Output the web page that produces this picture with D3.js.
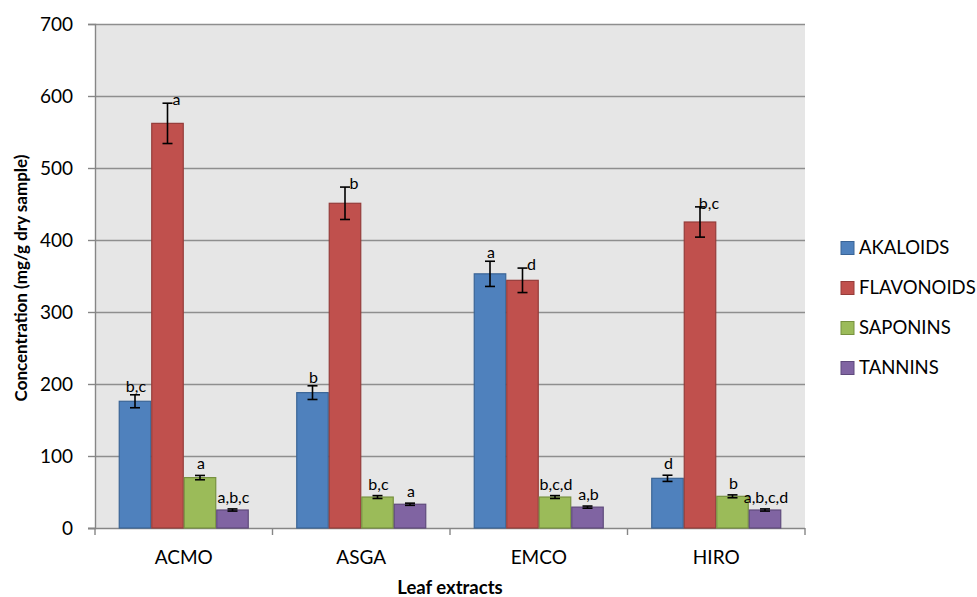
<!DOCTYPE html>
<html>
<head>
<meta charset="utf-8">
<script src="https://cdn.jsdelivr.net/npm/d3@7"></script>
<style>
  html, body { margin: 0; padding: 0; background: #ffffff; }
  svg { display: block; font-family: Lato, "Open Sans", "DejaVu Sans", sans-serif; }
</style>
</head>
<body>
<svg id="chart" width="977" height="597"></svg>
<script>
// Leaf extracts and the phytochemical groups measured in each
const categories = ["ACMO", "ASGA", "EMCO", "HIRO"];
const seriesNames = ["AKALOIDS", "FLAVONOIDS", "SAPONINS", "TANNINS"];

// Mean concentrations (mg/g dry sample)
const alkaloids  = [176, 188, 353, 69];
const flavonoids = [562, 451, 344, 425];
const saponins   = [70, 43, 43, 44];
const tannins    = [25, 33, 29, 25];

// Standard errors
const alkaloidsErr  = [9, 9.5, 17.5, 4.3];
const flavonoidsErr = [28, 22.5, 17, 21];
const saponinsErr   = [3, 2, 2, 2];
const tanninsErr    = [1.5, 1.5, 1.5, 1.5];

// Significance letters
const alkaloidsSig  = ["b,c", "b", "a", "d"];
const flavonoidsSig = ["a", "b", "d", "b,c"];
const saponinsSig   = ["a", "b,c", "b,c,d", "b"];
const tanninsSig    = ["a,b,c", "a", "a,b", "a,b,c,d"];

const yTicks = [0, 100, 200, 300, 400, 500, 600, 700];

const colors = ["#4F81BD", "#C0504D", "#9BBB59", "#8064A2"];
const strokes = ["#3A6496", "#953C3A", "#77913F", "#5F4A7C"];

const values = [alkaloids, flavonoids, saponins, tannins];
const errors = [alkaloidsErr, flavonoidsErr, saponinsErr, tanninsErr];
const sigs = [alkaloidsSig, flavonoidsSig, saponinsSig, tanninsSig];

const rows = [];
categories.forEach((c, i) => {
  seriesNames.forEach((s, j) => {
    rows.push({ cat: c, series: s, idx: j, value: values[j][i], err: errors[j][i], sig: sigs[j][i] });
  });
});

const svg = d3.select("#chart");
const plot = { left: 95, right: 805, top: 24, bottom: 528 };

const x0 = d3.scaleBand()
  .domain(categories)
  .range([plot.left, plot.right])
  .paddingInner(0.2676)
  .paddingOuter(0.1338);

const x1 = d3.scaleBand()
  .domain(seriesNames)
  .range([0, x0.bandwidth()])
  .padding(0);

const y = d3.scaleLinear().domain([0, 700]).range([plot.bottom, plot.top]);

// plot background
svg.append("rect")
  .attr("x", plot.left).attr("y", plot.top)
  .attr("width", plot.right - plot.left).attr("height", plot.bottom - plot.top)
  .attr("fill", "#e6e6e6");

// horizontal gridlines
svg.append("g").selectAll("line")
  .data(yTicks.filter(t => t > 0))
  .join("line")
  .attr("x1", plot.left).attr("x2", plot.right)
  .attr("y1", d => y(d) + 0.5).attr("y2", d => y(d) + 0.5)
  .attr("stroke", "#8e8e8e").attr("stroke-width", 1.4);

// y axis
const yAxis = svg.append("g")
  .attr("transform", `translate(${plot.left},0)`)
  .call(d3.axisLeft(y).tickValues(yTicks).tickSize(7).tickPadding(15).tickFormat(d3.format("d")));
yAxis.select(".domain").attr("stroke", "#868686").attr("stroke-width", 1.4);
yAxis.selectAll(".tick line").attr("stroke", "#868686").attr("stroke-width", 1.4);
yAxis.selectAll(".tick text")
  .attr("font-size", 19).attr("fill", "#000").attr("font-family", "Lato, sans-serif");

// x axis with ticks on group boundaries
const xAxisG = svg.append("g").attr("transform", `translate(0,${plot.bottom})`);
xAxisG.append("line")
  .attr("x1", plot.left - 7).attr("x2", plot.right)
  .attr("y1", 0.5).attr("y2", 0.5)
  .attr("stroke", "#868686").attr("stroke-width", 1.4);
const boundaries = categories.map(c => x0(c) - x0.step() * x0.paddingOuter()).concat([plot.right]);
xAxisG.selectAll("line.tk")
  .data(boundaries)
  .join("line").attr("class", "tk")
  .attr("x1", d => d).attr("x2", d => d)
  .attr("y1", 0).attr("y2", 7)
  .attr("stroke", "#868686").attr("stroke-width", 1.4);
xAxisG.selectAll("text")
  .data(categories)
  .join("text")
  .attr("x", d => x0(d) + x0.bandwidth() / 2)
  .attr("y", 36)
  .attr("text-anchor", "middle")
  .attr("font-size", 19)
  .text(d => d);

// bars
const groups = svg.append("g").selectAll("g")
  .data(categories)
  .join("g")
  .attr("transform", d => `translate(${x0(d)},0)`);

groups.selectAll("rect")
  .data(c => rows.filter(r => r.cat === c))
  .join("rect")
  .attr("x", d => x1(d.series) + 0.5)
  .attr("y", d => y(d.value))
  .attr("width", x1.bandwidth() - 1)
  .attr("height", d => y(0) - y(d.value))
  .attr("fill", d => colors[d.idx])
  .attr("stroke", d => strokes[d.idx])
  .attr("stroke-width", 1.2);

// error bars
const eb = groups.selectAll("g.err")
  .data(c => rows.filter(r => r.cat === c))
  .join("g").attr("class", "err")
  .attr("stroke", "#000").attr("stroke-width", 1.6);
const cx = d => x1(d.series) + x1.bandwidth() / 2;
eb.append("line")
  .attr("x1", cx).attr("x2", cx)
  .attr("y1", d => y(d.value + d.err)).attr("y2", d => y(d.value - d.err));
eb.append("line")
  .attr("x1", d => cx(d) - 5).attr("x2", d => cx(d) + 5)
  .attr("y1", d => y(d.value + d.err)).attr("y2", d => y(d.value + d.err));
eb.append("line")
  .attr("x1", d => cx(d) - 5).attr("x2", d => cx(d) + 5)
  .attr("y1", d => y(d.value - d.err)).attr("y2", d => y(d.value - d.err));

// significance letters: flavonoid letters sit beside the cap, the rest just above it
groups.selectAll("text.sig")
  .data(c => rows.filter(r => r.cat === c))
  .join("text").attr("class", "sig")
  .attr("x", d => cx(d) + (d.idx === 1 ? 9 : 1))
  .attr("y", d => y(d.value + d.err) + (d.idx === 1 ? 2 : (d.value > 150 ? -3 : -6)))
  .attr("text-anchor", "middle")
  .attr("font-size", 16)
  .attr("fill", "#000")
  .text(d => d.sig);

// legend
const legend = svg.append("g").attr("transform", "translate(841,248)");
const li = legend.selectAll("g")
  .data(seriesNames)
  .join("g")
  .attr("transform", (d, i) => `translate(0,${i * 40})`);
li.append("rect")
  .attr("x", 0).attr("y", -6.5).attr("width", 13).attr("height", 13)
  .attr("fill", (d, i) => colors[i])
  .attr("stroke", (d, i) => strokes[i]).attr("stroke-width", 1);
li.append("text")
  .attr("x", 18).attr("y", 0).attr("dy", "0.35em")
  .attr("font-size", 18.5)
  .text(d => d);

// axis titles
svg.append("text")
  .attr("x", (plot.left + plot.right) / 2).attr("y", 594)
  .attr("text-anchor", "middle")
  .attr("font-size", 18.5).attr("font-weight", "bold")
  .text("Leaf extracts");

svg.append("text")
  .attr("transform", `translate(27,${(plot.top + plot.bottom) / 2 + 2}) rotate(-90)`)
  .attr("text-anchor", "middle")
  .attr("font-size", 17).attr("font-weight", "bold")
  .text("Concentration (mg/g dry sample)");
</script>
</body>
</html>
